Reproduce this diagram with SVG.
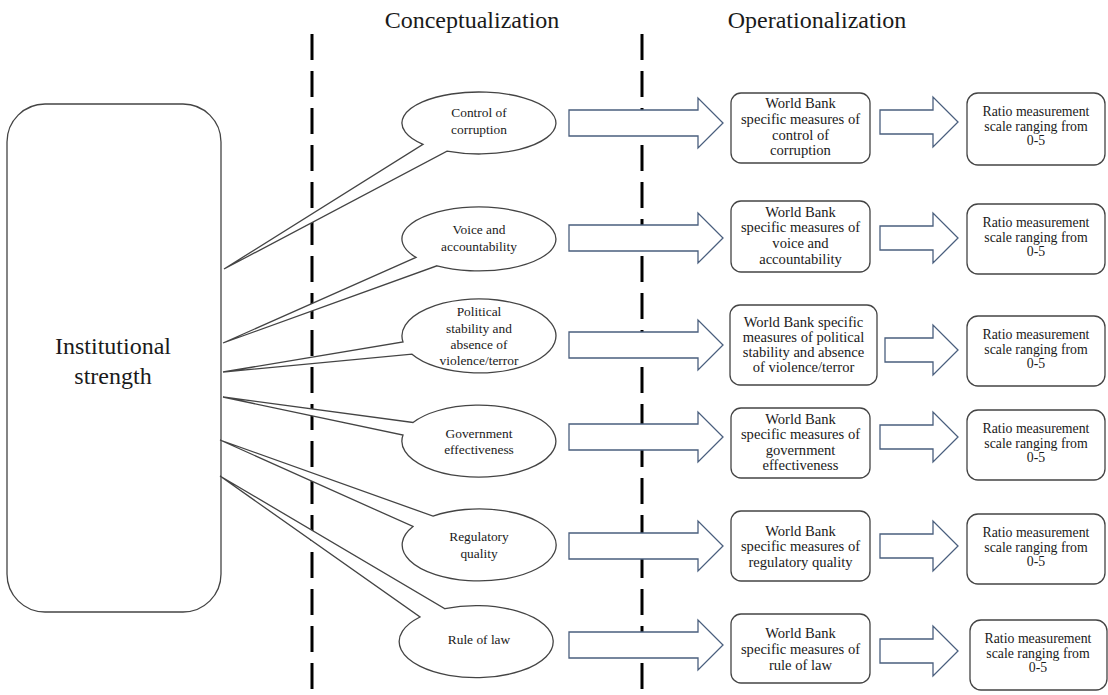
<svg xmlns="http://www.w3.org/2000/svg" width="1108" height="695" viewBox="0 0 1108 695">
<style>
text{font-family:"Liberation Serif","Times New Roman",serif;fill:#1a1a1a;text-anchor:middle}
.t{font-size:24px}
.big{font-size:24px}
.e{font-size:13.4px}
.b{font-size:14.6px}
.r{font-size:13.8px}
.box{fill:#fff;stroke:#444;stroke-width:1.3}
.call{fill:#fff;stroke:#444;stroke-width:1.3;stroke-linejoin:miter}
.arr{fill:#fff;stroke:#4a5f7e;stroke-width:1.3}
.dash{stroke:#000;stroke-width:3;stroke-dasharray:26 11}
</style>
<rect width="1108" height="695" fill="#fff"/>
<text class="t" x="472" y="28">Conceptualization</text>
<text class="t" x="817" y="28">Operationalization</text>
<g id="dividers">
<line class="dash" x1="312" y1="34" x2="312" y2="695"/>
<line class="dash" x1="642" y1="34" x2="642" y2="695"/>
</g>
<g id="institutional">
<rect class="box" x="7" y="104" width="214" height="508" rx="38"/>
<text class="big" x="113" y="354">Institutional</text>
<text class="big" x="113" y="384">strength</text>
</g>
<g id="c1">
<path class="call" d="M447,151.2 A77 31 0 1 0 423,144.3 L224,269 Z"/>
<text class="e" x="479" y="117">Control of</text>
<text class="e" x="479" y="134">corruption</text>
</g>
<g id="c2">
<path class="call" d="M437,265.8 A77 32 0 1 0 416,257.4 L223,343 Z"/>
<text class="e" x="479" y="234">Voice and</text>
<text class="e" x="479" y="251">accountability</text>
</g>
<g id="c3">
<path class="call" d="M412,354.2 A77 37 0 1 0 403,342 L223,372 Z"/>
<text class="e" x="479" y="316">Political</text>
<text class="e" x="479" y="333">stability and</text>
<text class="e" x="479" y="349">absence of</text>
<text class="e" x="479" y="365">violence/terror</text>
</g>
<g id="c4">
<path class="call" d="M403,435 A77 36 0 1 0 413,422.5 L223,397 Z"/>
<text class="e" x="479" y="438">Government</text>
<text class="e" x="479" y="454">effectiveness</text>
</g>
<g id="c5">
<path class="call" d="M413,526.5 A77 36 0 1 0 433,516.1 L220,440 Z"/>
<text class="e" x="479" y="541">Regulatory</text>
<text class="e" x="479" y="558">quality</text>
</g>
<g id="c6">
<path class="call" d="M420,617 A77 36 0 1 0 445,608.7 L220,476 Z"/>
<text class="e" x="479" y="644">Rule of law</text>
</g>
<g id="connectors">
<path class="arr" d="M569,110 H698 V98 L723,123 L698,148 V136 H569 Z"/>
<path class="arr" d="M569,225 H698 V213 L723,238 L698,263 V251 H569 Z"/>
<path class="arr" d="M569,332 H698 V320 L723,345 L698,370 V358 H569 Z"/>
<path class="arr" d="M569,424 H698 V412 L723,437 L698,462 V450 H569 Z"/>
<path class="arr" d="M569,533 H698 V521 L723,546 L698,571 V559 H569 Z"/>
<path class="arr" d="M569,632 H698 V620 L723,645 L698,670 V658 H569 Z"/>
<path class="arr" d="M880,110 H933 V97 L958,122 L933,147 V134 H880 Z"/>
<path class="arr" d="M880,226 H933 V213 L958,238 L933,263 V250 H880 Z"/>
<path class="arr" d="M885,338 H933 V325 L958,350 L933,375 V362 H885 Z"/>
<path class="arr" d="M880,425 H933 V412 L958,437 L933,462 V449 H880 Z"/>
<path class="arr" d="M880,534 H933 V521 L958,546 L933,571 V558 H880 Z"/>
<path class="arr" d="M880,639 H933 V626 L958,651 L933,676 V663 H880 Z"/>
</g>
<g id="wb1">
<rect class="box" x="731" y="93" width="139" height="70" rx="10"/>
<text class="b" x="800.5" y="108">World Bank</text>
<text class="b" x="800.5" y="124">specific measures of</text>
<text class="b" x="800.5" y="140">control of</text>
<text class="b" x="800.5" y="155">corruption</text>
</g>
<g id="wb2">
<rect class="box" x="731" y="201" width="139" height="71" rx="10"/>
<text class="b" x="800.5" y="217">World Bank</text>
<text class="b" x="800.5" y="232">specific measures of</text>
<text class="b" x="800.5" y="248">voice and</text>
<text class="b" x="800.5" y="264">accountability</text>
</g>
<g id="wb3">
<rect class="box" x="730" y="305" width="147" height="80" rx="10"/>
<text class="b" x="803.5" y="327">World Bank specific</text>
<text class="b" x="803.5" y="342">measures of political</text>
<text class="b" x="803.5" y="357">stability and absence</text>
<text class="b" x="803.5" y="372">of violence/terror</text>
</g>
<g id="wb4">
<rect class="box" x="731" y="408" width="139" height="70" rx="10"/>
<text class="b" x="800.5" y="424">World Bank</text>
<text class="b" x="800.5" y="439">specific measures of</text>
<text class="b" x="800.5" y="455">government</text>
<text class="b" x="800.5" y="470">effectiveness</text>
</g>
<g id="wb5">
<rect class="box" x="731" y="511" width="139" height="70" rx="10"/>
<text class="b" x="800.5" y="536">World Bank</text>
<text class="b" x="800.5" y="551">specific measures of</text>
<text class="b" x="800.5" y="567">regulatory quality</text>
</g>
<g id="wb6">
<rect class="box" x="731" y="614" width="139" height="69" rx="10"/>
<text class="b" x="800.5" y="638">World Bank</text>
<text class="b" x="800.5" y="654">specific measures of</text>
<text class="b" x="800.5" y="670">rule of law</text>
</g>
<g id="r1">
<rect class="box" x="967" y="93" width="138" height="72" rx="11"/>
<text class="r" x="1036" y="116">Ratio measurement</text>
<text class="r" x="1036" y="131">scale ranging from</text>
<text class="r" x="1036" y="145">0-5</text>
</g>
<g id="r2">
<rect class="box" x="967" y="204" width="138" height="70" rx="11"/>
<text class="r" x="1036" y="227">Ratio measurement</text>
<text class="r" x="1036" y="242">scale ranging from</text>
<text class="r" x="1036" y="256">0-5</text>
</g>
<g id="r3">
<rect class="box" x="967" y="316" width="138" height="70" rx="11"/>
<text class="r" x="1036" y="339">Ratio measurement</text>
<text class="r" x="1036" y="354">scale ranging from</text>
<text class="r" x="1036" y="368">0-5</text>
</g>
<g id="r4">
<rect class="box" x="967" y="410" width="138" height="70" rx="11"/>
<text class="r" x="1036" y="433">Ratio measurement</text>
<text class="r" x="1036" y="448">scale ranging from</text>
<text class="r" x="1036" y="462">0-5</text>
</g>
<g id="r5">
<rect class="box" x="967" y="514" width="138" height="70" rx="11"/>
<text class="r" x="1036" y="537">Ratio measurement</text>
<text class="r" x="1036" y="552">scale ranging from</text>
<text class="r" x="1036" y="566">0-5</text>
</g>
<g id="r6">
<rect class="box" x="970" y="620" width="137" height="70" rx="11"/>
<text class="r" x="1038" y="643">Ratio measurement</text>
<text class="r" x="1038" y="658">scale ranging from</text>
<text class="r" x="1038" y="672">0-5</text>
</g>
</svg>
